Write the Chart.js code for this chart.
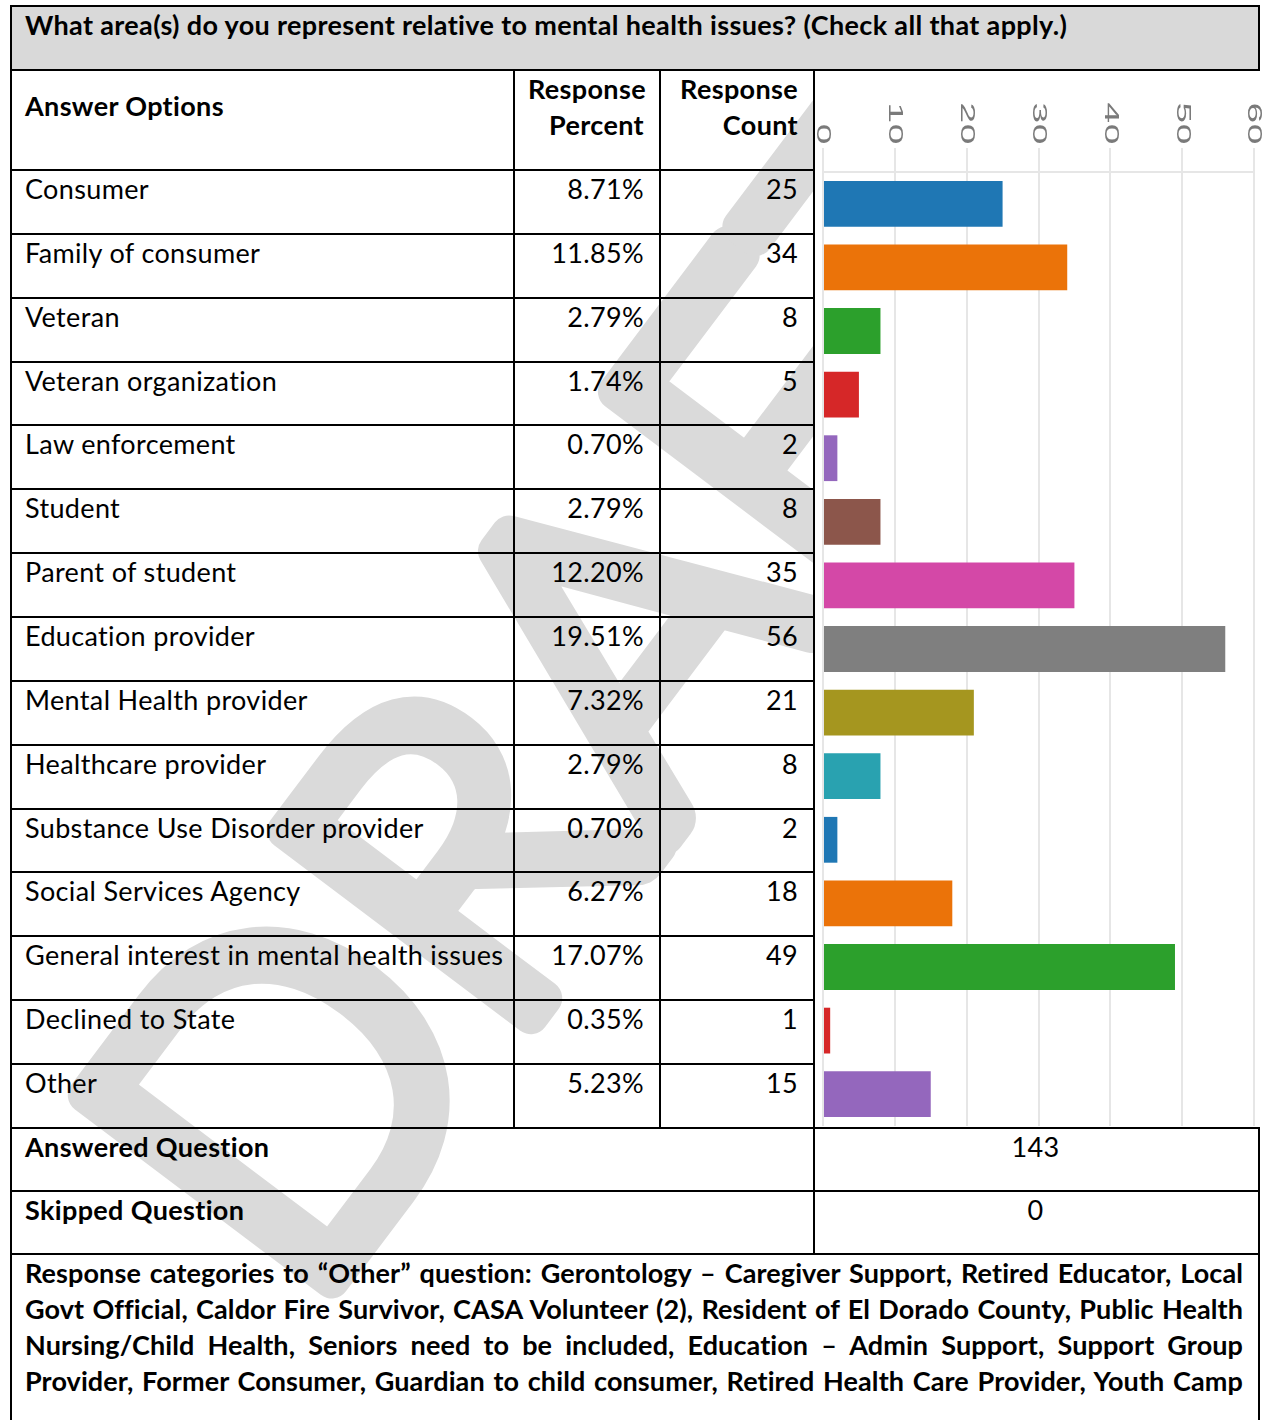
<!DOCTYPE html>
<html>
<head>
<meta charset="utf-8">
<script src="https://cdn.jsdelivr.net/npm/chart.js@4.4.1/dist/chart.umd.min.js"></script>
<style>
  html, body { margin:0; padding:0; background:#fff; }
  body { width:1273px; height:1420px; overflow:hidden; position:relative; font-family: Lato, "Open Sans", sans-serif; font-size:27px; letter-spacing:0.35px; color:#000; }
  #watermark { position:absolute; left:0; top:0; z-index:0; }
  table { position:absolute; left:10px; top:5px; z-index:1; border-collapse:collapse; table-layout:fixed; width:1248px; }
  td { border:2px solid #000; padding:0 15px 0 13px; line-height:36px; vertical-align:top; background:transparent; white-space:nowrap; }
  .title td { background:#d9d9d9; font-weight:bold; }
  .head td { font-weight:bold; }
  .head td.opt { padding-top:17px; }
  .num { text-align:right; }
  .ctr { text-align:center; }
  td.chartcell { padding:0; background:#fff; border-right-style:hidden; position:relative; }
  #chartWrap { position:absolute; left:-2px; top:0; width:459px; height:1055px; }
  .bold { font-weight:bold; }
  .notes td { white-space:normal; padding-right:15px; letter-spacing:0.1px; }
  .notes .ln { text-align:justify; text-align-last:justify; }
</style>
</head>
<body>
<svg id="watermark" width="1273" height="1420">
  <text transform="translate(585,665) rotate(-53)" text-anchor="middle" dominant-baseline="central"
        font-family="Lato" font-weight="300" font-size="435" fill="#dadada" stroke="#dadada"
        stroke-width="36" stroke-linejoin="round" stroke-linecap="round">DRAFT</text>
</svg>
<table id="tbl">
  <colgroup><col style="width:503px"><col style="width:146px"><col style="width:154px"><col style="width:445px"></colgroup>
  <tbody id="tbody"></tbody>
</table>
<script>
const questionTitle = 'What area(s) do you represent relative to mental health issues? (Check all that apply.)';
const answerOptions = ['Consumer', 'Family of consumer', 'Veteran', 'Veteran organization', 'Law enforcement',
  'Student', 'Parent of student', 'Education provider', 'Mental Health provider', 'Healthcare provider',
  'Substance Use Disorder provider', 'Social Services Agency', 'General interest in mental health issues',
  'Declined to State', 'Other'];
const responsePercent = ['8.71%', '11.85%', '2.79%', '1.74%', '0.70%', '2.79%', '12.20%', '19.51%', '7.32%',
  '2.79%', '0.70%', '6.27%', '17.07%', '0.35%', '5.23%'];
const responseCount = [25, 34, 8, 5, 2, 8, 35, 56, 21, 8, 2, 18, 49, 1, 15];
const xTicks = [0, 10, 20, 30, 40, 50, 60];
const barColors = ['#1f77b4', '#eb7309', '#2ca02c', '#d62728', '#9467bd', '#8c564b', '#d448a7', '#7f7f7f',
  '#a5961f', '#29a2b0', '#1f77b4', '#eb7309', '#2ca02c', '#d62728', '#9467bd'];
const answeredQuestion = 143;
const skippedQuestion = 0;
const otherNotes = [
  'Response categories to \u201cOther\u201d question: Gerontology \u2013 Caregiver Support, Retired Educator, Local',
  'Govt Official, Caldor Fire Survivor, CASA Volunteer (2), Resident of El Dorado County, Public Health',
  'Nursing/Child Health, Seniors need to be included, Education \u2013 Admin Support, Support Group',
  'Provider, Former Consumer, Guardian to child consumer, Retired Health Care Provider, Youth Camp'
];

// build the table
const tb = document.getElementById('tbody');
let html = `<tr class="title" style="height:64px"><td colspan="4">${questionTitle}</td></tr>`;
html += `<tr class="head" style="height:100px"><td class="opt">Answer Options</td>
  <td class="num">Response<br>Percent</td><td class="num">Response<br>Count</td>
  <td class="chartcell" rowspan="16"><div id="chartWrap"><canvas id="chart"></canvas></div></td></tr>`;
answerOptions.forEach((a, i) => {
  html += `<tr style="height:63.87px"><td>${a}</td><td class="num">${responsePercent[i]}</td><td class="num">${responseCount[i]}</td></tr>`;
});
html += `<tr style="height:63px"><td colspan="3" class="bold">Answered Question</td><td class="ctr">${answeredQuestion}</td></tr>`;
html += `<tr style="height:63px"><td colspan="3" class="bold">Skipped Question</td><td class="ctr">${skippedQuestion}</td></tr>`;
html += `<tr class="notes" style="height:190px"><td colspan="4" class="bold">${otherNotes.map(l => `<div class="ln">${l}</div>`).join('')}</td></tr>`;
tb.innerHTML = html;

// rotated tick labels on the top axis (read top to bottom, stretched like the original image)
const tickLabels = {
  id: 'tickLabels',
  afterDraw(chart) {
    const sx = chart.scales.x, c = chart.ctx;
    c.save();
    c.font = '20px "Liberation Sans", Arial, sans-serif';
    c.fillStyle = '#7a7a7a';
    c.textAlign = 'right';
    c.textBaseline = 'middle';
    xTicks.forEach(v => {
      c.save();
      c.translate(sx.getPixelForValue(v), sx.top - 3);
      c.rotate(Math.PI / 2);
      c.scale(1.85, 1);
      c.fillText(String(v), 0, 0);
      c.restore();
    });
    c.restore();
  }
};

new Chart(document.getElementById('chart'), {
  type: 'bar',
  data: { labels: answerOptions, datasets: [{ data: responseCount, backgroundColor: barColors, barPercentage: 0.72, categoryPercentage: 1 }] },
  options: {
    indexAxis: 'y', responsive: true, maintainAspectRatio: false, animation: false,
    layout: { padding: { top: 77, left: 10, right: 18, bottom: 0 } },
    plugins: { legend: { display: false }, tooltip: { enabled: false } },
    scales: {
      x: { position: 'top', min: 0, max: 60,
           ticks: { display: false, stepSize: 10 },
           grid: { color: '#e6e6e6', lineWidth: 2, tickLength: 24 },
           border: { display: true, color: '#e6e6e6', width: 2 } },
      y: { display: false }
    }
  },
  plugins: [tickLabels]
});
</script>
</body>
</html>
